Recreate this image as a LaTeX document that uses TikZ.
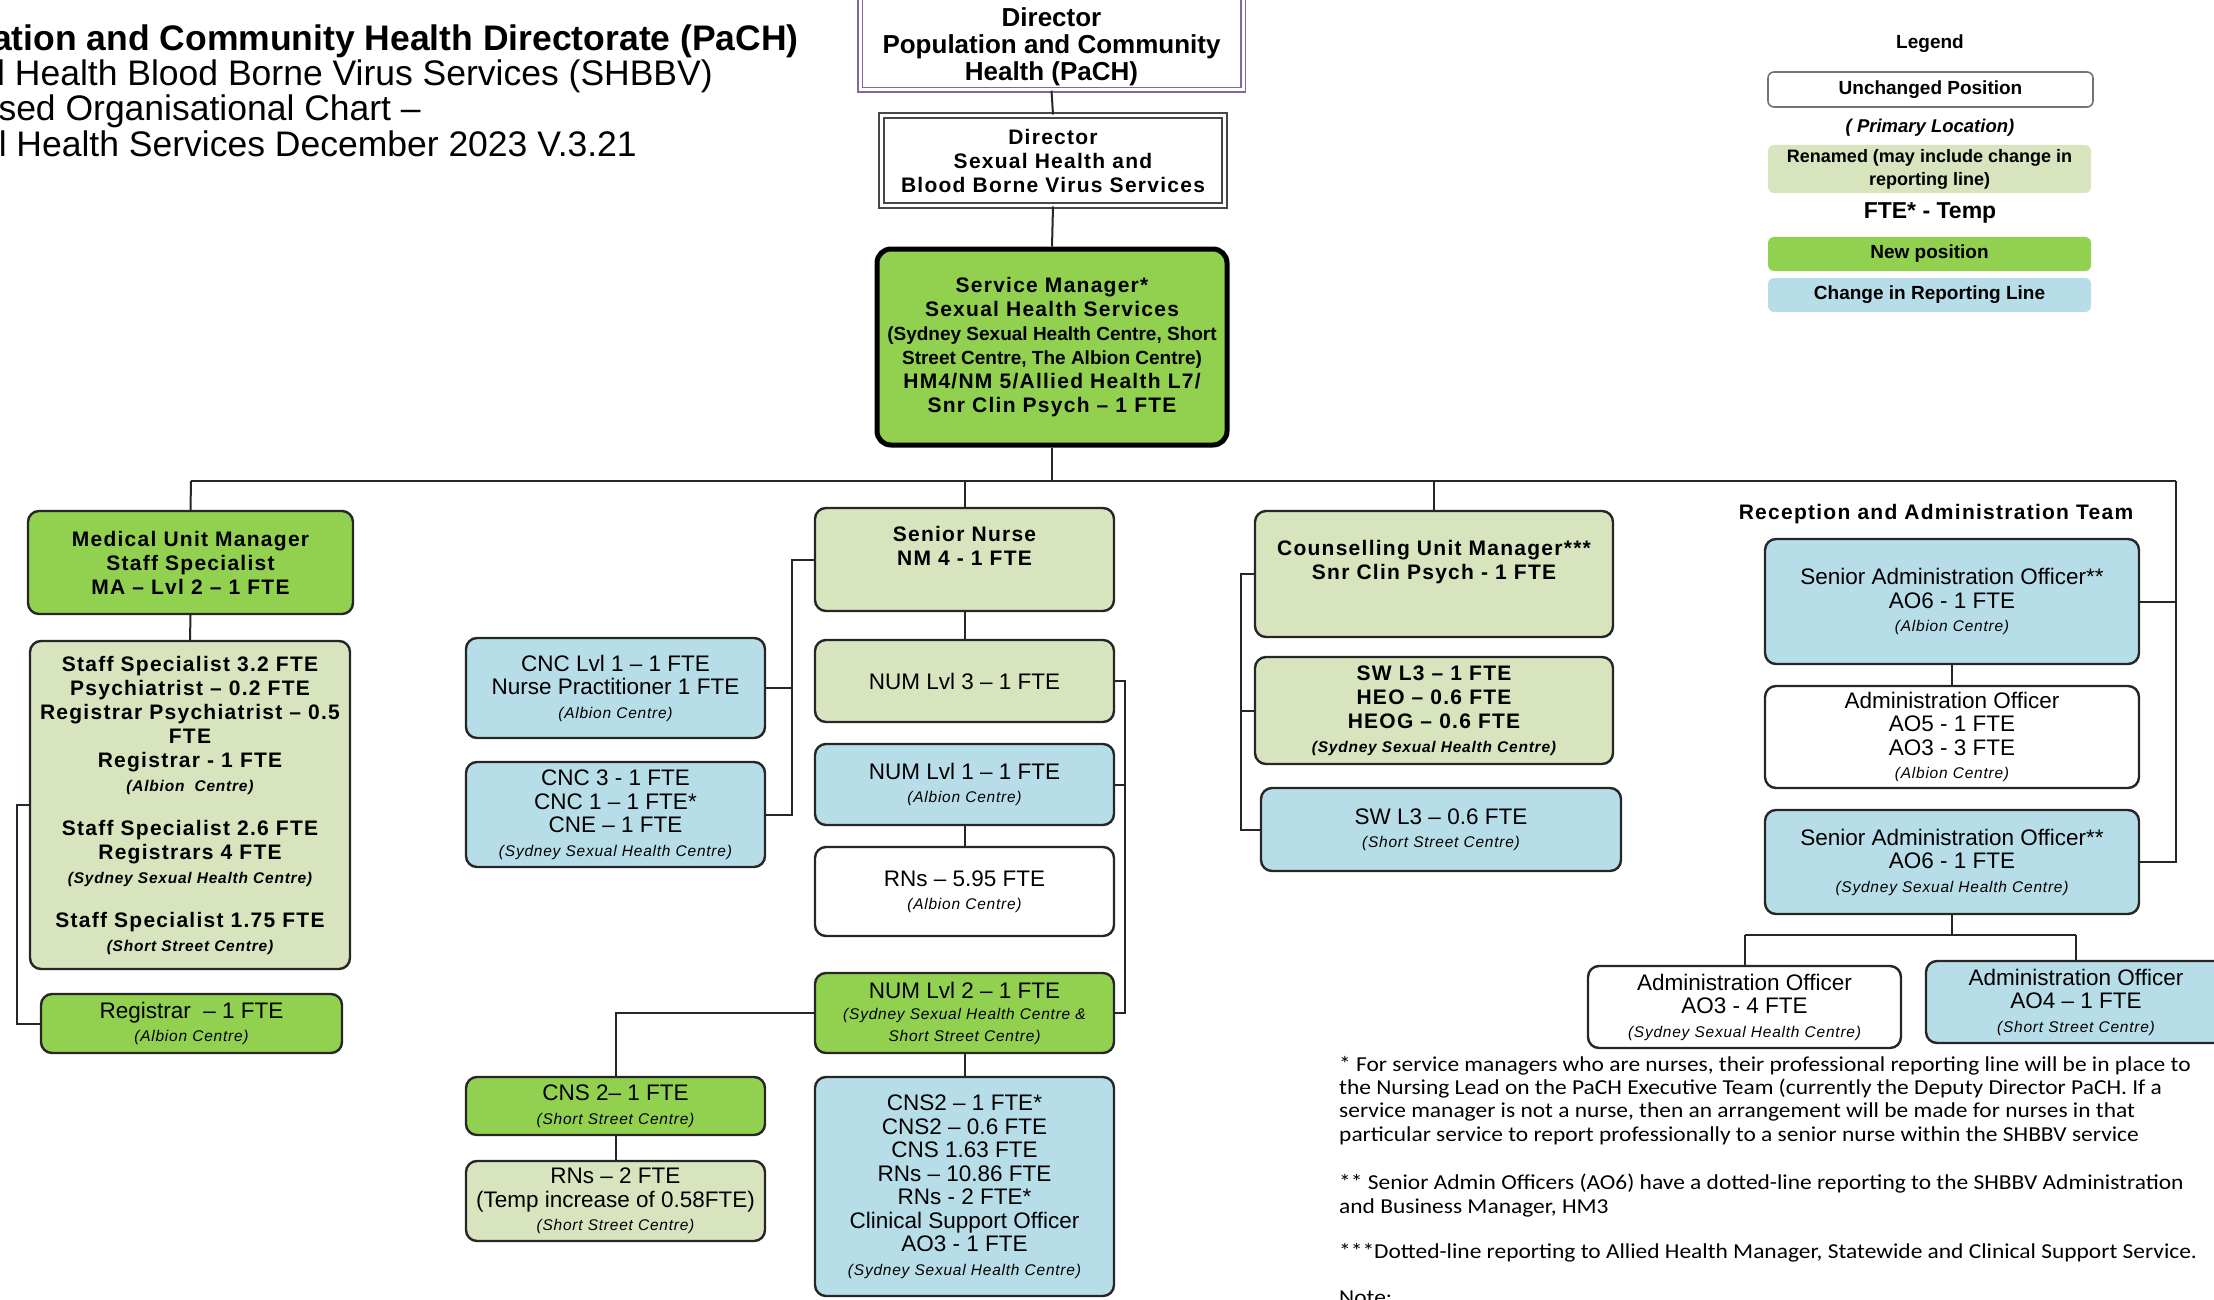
\documentclass[tikz,border=0pt]{standalone}
\usepackage{fontspec}
\setmainfont{Liberation Sans}
\newfontfamily\spbfam[LetterSpace=6]{Liberation Sans}
\newfontfamily\locfam[LetterSpace=5]{Liberation Sans}
\newfontfamily\calfam[FakeStretch=1.1]{Carlito}
\definecolor{newg}{HTML}{92D050}
\definecolor{lgrn}{HTML}{D7E4BD}
\definecolor{lblue}{HTML}{B7DEE8}
\definecolor{bordc}{HTML}{262626}
\definecolor{pachc}{HTML}{7F6A9A}
\newcommand\bd{\spbfam\bfseries\fontsize{21}{24}\selectfont}
\newcommand\rg{\normalfont\fontsize{22.5}{23.5}\selectfont}
\newcommand\lc{\locfam\itshape\fontsize{15.5}{23.5}\selectfont}
\newcommand\bdp{\normalfont\bfseries\fontsize{19}{23.7}\selectfont}
\newcommand\legf{\normalfont\bfseries\fontsize{19}{23}\selectfont}
\newcommand\ttlf{\normalfont\fontsize{35.5}{35.5}\selectfont}
\newcommand\footf{\calfam\fontsize{21.3}{23.3}\selectfont}
\begin{document}
\begin{tikzpicture}[x=1pt,y=-1pt,
  box/.style={rounded corners=11pt, draw=bordc, line width=2.4pt, align=center, inner sep=0pt, font=\rg},
  ng/.style={box, fill=newg},
  lg/.style={box, fill=lgrn},
  bl/.style={box, fill=lblue},
  wb/.style={box, fill=white},
  sz/.style 2 args={minimum width=#1pt, minimum height=#2pt},
  conn/.style={draw=bordc, line width=2pt},
  leg/.style={rounded corners=6pt, align=center, font=\legf, inner sep=0pt},
  plain/.style={inner sep=0pt, align=center}]
\useasboundingbox (0,0) rectangle (2214,1300);
\clip (0,0) rectangle (2214,1300);

% title
\node[plain, anchor=base east, font=\ttlf\bfseries] (t1) at (799,50.5) {ation and Community Health Directorate (PaCH)};
\node[plain, anchor=base east, font=\ttlf] (t2) at (713,86) {l Health Blood Borne Virus Services (SHBBV)};
\node[plain, anchor=base east, font=\ttlf] (t3) at (421,121) {sed Organisational Chart –};
\node[plain, anchor=base east, font=\ttlf] (t4) at (637,156.5) {l Health Services December 2023 V.3.21};

% directors
\node[draw=pachc, line width=1.3pt, double=white, double distance=3pt, fill=white,
      minimum width=383pt, minimum height=96pt, inner sep=0pt] (pach) at (1051.5,42) {};
\node[plain, font=\normalfont\bfseries\fontsize{26}{27}\selectfont] (pacht) at (1051.5,47)
      {Director\\Population and Community\\Health (PaCH)};
\node[draw=bordc!85, line width=2pt, double=white, double distance=3pt, fill=white,
      minimum width=343pt, minimum height=90pt, align=center, inner sep=0pt, font=\bd] (shb) at (1053,160.5)
      {Director\\Sexual Health and\\Blood Borne Virus Services};
\node[ng, draw=black, line width=5pt, sz={350}{196}, font=\bd, rounded corners=14pt] (sm) at (1052,347)
      {Service Manager*\\Sexual Health Services\\{\bdp (Sydney Sexual Health Centre, Short}\\{\bdp Street Centre, The Albion Centre)}\\HM4/NM 5/Allied Health L7/\\Snr Clin Psych – 1 FTE};

% medical
\node[ng, sz={325}{103}, font=\bd] (mum) at (190.5,562.5) {Medical Unit Manager\\Staff Specialist\\MA – Lvl 2 – 1 FTE};
\node[lg, sz={320}{328}, font=\bd] (ms) at (190,805) {Staff Specialist 3.2 FTE\\Psychiatrist – 0.2 FTE\\Registrar Psychiatrist – 0.5\\FTE\\Registrar - 1 FTE\\{\lc (Albion\ \ Centre)}\\[20pt]Staff Specialist 2.6 FTE\\Registrars 4 FTE\\{\lc (Sydney Sexual Health Centre)}\\[20pt]Staff Specialist 1.75 FTE\\{\lc (Short Street Centre)}};
\node[ng, sz={301}{59}] (reg) at (191.5,1023.5) {Registrar\ \ – 1 FTE\\{\lc (Albion Centre)}};

% nursing
\node[lg, sz={299}{103}, font=\bd] (sn) at (964.5,559.5) {Senior Nurse\\NM 4 - 1 FTE\\[4pt]~};
\node[lg, sz={299}{82}] (num3) at (964.5,681) {NUM Lvl 3 – 1 FTE};
\node[bl, sz={299}{81}] (num1) at (964.5,784.5) {NUM Lvl 1 – 1 FTE\\{\lc (Albion Centre)}};
\node[wb, sz={299}{89}] (rn5) at (964.5,891.5) {RNs – 5.95 FTE\\{\lc (Albion Centre)}};
\node[ng, sz={299}{80}] (num2) at (964.5,1013) {NUM Lvl 2 – 1 FTE\\[-2pt]{\lc (Sydney Sexual Health Centre \&}\\[-2pt]{\lc Short Street Centre)}};
\node[bl, sz={299}{219}] (cns) at (964.5,1186.5) {CNS2 – 1 FTE*\\CNS2 – 0.6 FTE\\CNS 1.63 FTE\\RNs – 10.86 FTE\\RNs - 2 FTE*\\Clinical Support Officer\\AO3 - 1 FTE\\{\lc (Sydney Sexual Health Centre)}};
\node[bl, sz={299}{100}] (cnc1) at (615.5,688) {CNC Lvl 1 – 1 FTE\\Nurse Practitioner 1 FTE\\{\lc (Albion Centre)}};
\node[bl, sz={299}{105}] (cnc3) at (615.5,814.5) {CNC 3 - 1 FTE\\CNC 1 – 1 FTE*\\CNE – 1 FTE\\{\lc (Sydney Sexual Health Centre)}};
\node[ng, sz={299}{58}] (cns2) at (615.5,1106) {CNS 2– 1 FTE\\{\lc (Short Street Centre)}};
\node[lg, sz={299}{80}] (rn2) at (615.5,1201) {RNs – 2 FTE\\(Temp increase of 0.58FTE)\\{\lc (Short Street Centre)}};

% counselling
\node[lg, sz={358}{126}, font=\bd] (cum) at (1434,574) {Counselling Unit Manager***\\Snr Clin Psych - 1 FTE\\[4pt]~};
\node[lg, sz={358}{107}, font=\bd] (swl3) at (1434,710.5) {SW L3 – 1 FTE\\HEO – 0.6 FTE\\HEOG – 0.6 FTE\\{\lc (Sydney Sexual Health Centre)}};
\node[bl, sz={360}{83}] (sw06) at (1441,829.5) {SW L3 – 0.6 FTE\\{\lc (Short Street Centre)}};

% reception
\node[plain, font=\bd] (rat) at (1936,514) {Reception and Administration Team};
\node[bl, sz={374}{125}] (sao1) at (1952,601.5) {Senior Administration Officer**\\AO6 - 1 FTE\\{\lc (Albion Centre)}};
\node[wb, sz={374}{102}] (ao) at (1952,737) {Administration Officer\\AO5 - 1 FTE\\AO3 - 3 FTE\\{\lc (Albion Centre)}};
\node[bl, sz={374}{104}] (sao2) at (1952,862) {Senior Administration Officer**\\AO6 - 1 FTE\\{\lc (Sydney Sexual Health Centre)}};
\node[wb, sz={313}{82}] (ao3) at (1744.5,1007) {Administration Officer\\AO3 - 4 FTE\\{\lc (Sydney Sexual Health Centre)}};
\node[bl, sz={300}{82}] (ao4) at (2076,1002) {Administration Officer\\AO4 – 1 FTE\\{\lc (Short Street Centre)}};

% legend
\node[plain, font=\legf] (legt) at (1930,44) {Legend};
\node[leg, draw=black!55, line width=1.6pt, fill=white, minimum width=325pt, minimum height=35pt] (lu) at (1930.5,89.5) {Unchanged Position};
\node[plain, font=\normalfont\bfseries\itshape\fontsize{18.5}{22}\selectfont] (lp) at (1930,128) {( Primary Location)};
\node[leg, fill=lgrn, minimum width=323pt, minimum height=48pt, font=\normalfont\bfseries\fontsize{18}{23}\selectfont] (lr) at (1929.5,169) {Renamed (may include change in\\reporting line)};
\node[plain, font=\normalfont\bfseries\fontsize{23}{26}\selectfont] (lf) at (1930,213) {FTE* - Temp};
\node[leg, fill=newg, minimum width=323pt, minimum height=34pt] (ln) at (1929.5,254) {New position};
\node[leg, fill=lblue, minimum width=323pt, minimum height=34pt] (lc) at (1929.5,295) {Change in Reporting Line};

% footnotes
\node[inner sep=0pt, align=left, anchor=north west, font=\footf] (f1) at (1339,1056)
  {* For service managers who are nurses, their professional reporting line will be in place to\\the Nursing Lead on the PaCH Executive Team (currently the Deputy Director PaCH. If a\\service manager is not a nurse, then an arrangement will be made for nurses in that\\particular service to report professionally to a senior nurse within the SHBBV service};
\node[inner sep=0pt, align=left, anchor=north west, font=\footf] (f2) at (1339,1174)
  {** Senior Admin Officers (AO6) have a dotted-line reporting to the SHBBV Administration\\and Business Manager, HM3};
\node[inner sep=0pt, align=left, anchor=north west, font=\footf] (f3) at (1339,1243)
  {***Dotted-line reporting to Allied Health Manager, Statewide and Clinical Support Service.};
\node[inner sep=0pt, align=left, anchor=north west, font=\footf] (f4) at (1339,1291) {Note:};

% connectors
\coordinate (busL) at (191,481);
\coordinate (busR) at (2176,481);
\draw[conn] (pach.south) -- (shb.north);
\draw[conn] (shb.south) -- (sm.north);
\draw[conn] (sm.south) -- (sm.south |- busL);
\draw[conn] (busL) -- (busR);
\draw[conn] (busL) -- (mum.north);
\draw[conn] (sn.north |- busL) -- (sn.north);
\draw[conn] (cum.north |- busL) -- (cum.north);
\draw[conn] (busR) |- (sao2.east);
\draw[conn] (busR |- sao1.east) -- (sao1.east);
% medical
\draw[conn] (mum.south) -- (ms.north);
\draw[conn] (ms.west) -- (17,805) |- (reg.west);
% nursing
\draw[conn] (sn.south) -- (num3.north);
\draw[conn] (num1.south) -- (rn5.north);
\draw[conn] (num2.south) -- (cns.north);
\draw[conn] (num3.east) -- (1125,681) |- (num2.east);
\draw[conn] (num1.east) -- (1125,784.5);
\draw[conn] (sn.west) -- (792,559.5) |- (cnc3.east);
\draw[conn] (cnc1.east) -- (792,688);
\draw[conn] (num2.west) -| (cns2.north);
\draw[conn] (cns2.south) -- (rn2.north);
% counselling
\draw[conn] (cum.west) -- (1241,574) |- (sw06.west);
\draw[conn] (swl3.west) -- (1241,710.5);
% reception
\coordinate (rsplit) at (1952,935);
\draw[conn] (sao1.south) -- (ao.north);
\draw[conn] (sao2.south) -- (rsplit);
\draw[conn] (ao3.north |- rsplit) -- (ao4.north |- rsplit);
\draw[conn] (ao3.north |- rsplit) -- (ao3.north);
\draw[conn] (ao4.north |- rsplit) -- (ao4.north);
\end{tikzpicture}
\end{document}
